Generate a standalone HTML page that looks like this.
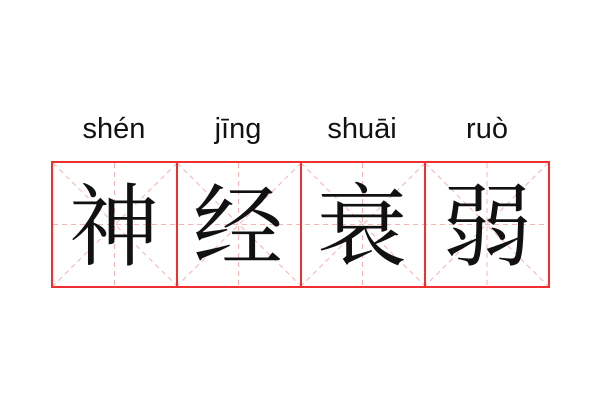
<!DOCTYPE html>
<html><head><meta charset="utf-8"><style>
html,body{margin:0;padding:0;background:#fff;}
body{width:600px;height:400px;position:relative;overflow:hidden;}
</style></head><body>
<svg width="600" height="400" xmlns="http://www.w3.org/2000/svg">
<g font-family="'Liberation Sans','DejaVu Sans',sans-serif" font-size="29" fill="#111" text-anchor="middle">
<text x="114" y="138">shén</text>
<text x="238" y="138">jīng</text>
<text x="362" y="138">shuāi</text>
<text x="487" y="138">ruò</text>
</g>
<g stroke="#f6b4b4" stroke-width="1" stroke-dasharray="5,4" fill="none">
<line x1="53" y1="224.5" x2="548" y2="224.5"/>
<line x1="114.5" y1="163" x2="114.5" y2="286"/>
<line x1="238.5" y1="163" x2="238.5" y2="286"/>
<line x1="362.5" y1="163" x2="362.5" y2="286"/>
<line x1="487" y1="163" x2="487" y2="286"/>
<line x1="53" y1="163" x2="177" y2="286"/><line x1="177" y1="163" x2="53" y2="286"/>
<line x1="177" y1="163" x2="301" y2="286"/><line x1="301" y1="163" x2="177" y2="286"/>
<line x1="301" y1="163" x2="425" y2="286"/><line x1="425" y1="163" x2="301" y2="286"/>
<line x1="425" y1="163" x2="548" y2="286"/><line x1="548" y1="163" x2="425" y2="286"/>
</g>
<g stroke="#f03030" stroke-width="2" fill="none">
<rect x="52" y="162" width="497" height="125"/>
<line x1="177" y1="162" x2="177" y2="287"/>
<line x1="301" y1="162" x2="301" y2="287"/>
<line x1="425" y1="162" x2="425" y2="287"/>
</g>
<g font-family="'Noto Serif CJK SC','Noto Sans CJK SC',serif" font-size="90" fill="#111" text-anchor="middle">
<text x="114" y="258">神</text>
<text x="238" y="258">经</text>
<text x="362" y="258">衰</text>
<text x="487" y="258">弱</text>
</g>
</svg>
</body></html>
